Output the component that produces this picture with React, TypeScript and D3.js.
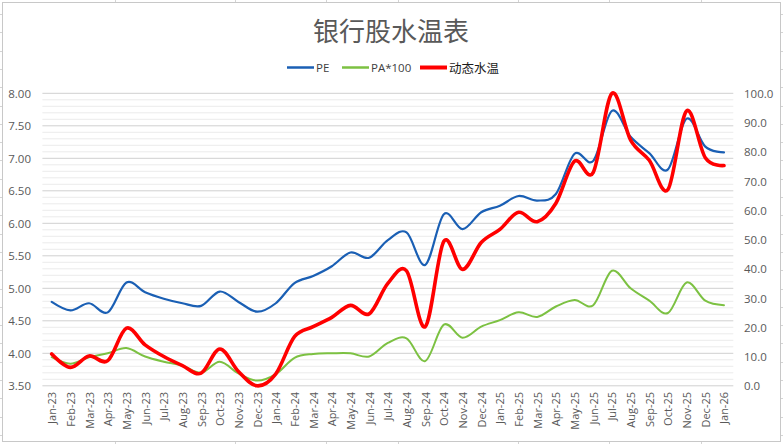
import React from "react";
import * as d3 from "d3";

const months = [
  "Jan-23","Feb-23","Mar-23","Apr-23","May-23","Jun-23","Jul-23","Aug-23","Sep-23","Oct-23","Nov-23","Dec-23",
  "Jan-24","Feb-24","Mar-24","Apr-24","May-24","Jun-24","Jul-24","Aug-24","Sep-24","Oct-24","Nov-24","Dec-24",
  "Jan-25","Feb-25","Mar-25","Apr-25","May-25","Jun-25","Jul-25","Aug-25","Sep-25","Oct-25","Nov-25","Dec-25",
  "Jan-26",
];
const peValues = [4.79,4.66,4.77,4.63,5.09,4.94,4.84,4.77,4.73,4.95,4.79,4.64,4.77,5.08,5.19,5.34,5.55,5.47,5.74,5.86,5.36,6.14,5.91,6.17,6.27,6.42,6.35,6.45,7.07,6.96,7.73,7.33,7.08,6.83,7.61,7.18,7.09];
const paValues = [3.94,3.84,3.94,4.0,4.08,3.95,3.87,3.81,3.70,3.87,3.69,3.58,3.68,3.93,3.99,4.0,4.0,3.95,4.16,4.23,3.88,4.44,4.24,4.41,4.51,4.63,4.56,4.72,4.82,4.74,5.27,5.0,4.81,4.62,5.09,4.81,4.74];
const waterValues = [10.9,6.3,10.2,8.6,19.7,14.0,10.0,6.9,4.3,12.6,4.9,0.0,4.1,16.8,20.2,23.4,27.5,24.6,35.0,39.3,20.2,49.4,39.8,49.0,53.5,59.3,56.1,62.4,76.8,73.0,100.0,84.0,77.1,67.1,94.0,78.0,75.3];
const leftTicks = [3.5,4.0,4.5,5.0,5.5,6.0,6.5,7.0,7.5,8.0];
const rightTicks = [0,10,20,30,40,50,60,70,80,90,100];

const W = 783, H = 444;
const plot = { left: 42.4, right: 733.3, top: 93.3, bottom: 385.8 };
const LAT = "'Open Sans', 'Liberation Sans', sans-serif";
const CJK = "'Noto Sans CJK SC', sans-serif";

export default function App() {
  const x = d3.scaleBand<string>().domain(months).range([plot.left, plot.right]).padding(0);
  const xc = (m: string) => (x(m) as number) + x.bandwidth() / 2;
  const yL = d3.scaleLinear().domain([3.5, 8]).range([plot.bottom, plot.top]);
  const yR = d3.scaleLinear().domain([0, 100]).range([plot.bottom, plot.top]);
  const curve = d3.curveCardinal.tension(0);
  const lineL = d3.line<number>().x((_, i) => xc(months[i])).y((v) => yL(v)).curve(curve);
  const lineR = d3.line<number>().x((_, i) => xc(months[i])).y((v) => yR(v)).curve(curve);
  const minor = d3.range(35, 81).map((v) => v / 10).filter((v) => Math.round(v * 10) % 5 !== 0);

  const colStubs = [115, 235, 326, 398, 518, 609, 701];
  const rowStubs = d3.range(0, 24).map((k) => 14 + 18.3 * k);

  const legend = [
    { label: "PE", color: "#1a5fb4", w: 2.5, x: 287, cjk: false },
    { label: "PA*100", color: "#7cc142", w: 2.5, x: 342, cjk: false },
    { label: "动态水温", color: "#ff0000", w: 4, x: 420, cjk: true },
  ];

  return (
    <svg width={W} height={H} style={{ position: "fixed", left: 0, top: 0, background: "#fff" }}>
      {/* spreadsheet stubs */}
      <g stroke="#d4d4d4" strokeWidth={1}>
        {colStubs.map((c) => (
          <g key={c}>
            <line x1={c + 0.5} x2={c + 0.5} y1={0} y2={2.5} />
            <line x1={c + 0.5} x2={c + 0.5} y1={441.5} y2={444} />
          </g>
        ))}
        {rowStubs.map((r) => (
          <g key={r}>
            <line x1={0} x2={2} y1={Math.round(r) + 0.5} y2={Math.round(r) + 0.5} />
            <line x1={780.5} x2={783} y1={Math.round(r) + 0.5} y2={Math.round(r) + 0.5} />
          </g>
        ))}
      </g>
      <rect x={2.5} y={2.5} width={778} height={439} fill="#fff" stroke="#c8c8c8" strokeWidth={1} />

      {/* title */}
      <text x={391} y={41} textAnchor="middle" fontFamily={CJK} fontSize={26} fill="#595959">银行股水温表</text>

      {/* legend */}
      {legend.map((l) => (
        <g key={l.label}>
          <line x1={l.x} x2={l.x + 27} y1={67.5} y2={67.5} stroke={l.color} strokeWidth={l.w} />
          <text x={l.x + 29} y={67.5} dominantBaseline="central" fontFamily={l.cjk ? CJK : LAT}
            fontSize={l.cjk ? 12.5 : 11.5} fill={l.cjk ? "#1a1a1a" : "#404040"}>{l.label}</text>
        </g>
      ))}

      {/* gridlines */}
      <g>
        {minor.map((v) => (
          <line key={"m" + v} x1={plot.left} x2={plot.right} y1={yL(v)} y2={yL(v)} stroke="#ebebeb" strokeWidth={1} />
        ))}
        {leftTicks.map((v) => (
          <line key={"M" + v} x1={plot.left} x2={plot.right} y1={yL(v)} y2={yL(v)} stroke="#d0d0d0" strokeWidth={1} />
        ))}
      </g>

      {/* left axis labels */}
      {leftTicks.map((v) => (
        <text key={"l" + v} x={31} y={yL(v)} textAnchor="end" dominantBaseline="central" fontFamily={LAT} fontSize={11.5} fill="#595959">
          {d3.format(".2f")(v)}
        </text>
      ))}
      {/* right axis labels */}
      {rightTicks.map((v) => (
        <text key={"r" + v} x={744} y={yR(v)} textAnchor="start" dominantBaseline="central" fontFamily={LAT} fontSize={11.5} fill="#595959">
          {d3.format(".1f")(v)}
        </text>
      ))}
      {/* x labels */}
      {months.map((m) => (
        <text key={m} transform={`translate(${xc(m)},392) rotate(-90)`} textAnchor="end" dominantBaseline="central"
          fontFamily={LAT} fontSize={11} fill="#595959">{m}</text>
      ))}

      {/* series */}
      <path d={lineL(paValues) || ""} fill="none" stroke="#7cc142" strokeWidth={2} strokeLinejoin="round" strokeLinecap="round" />
      <path d={lineL(peValues) || ""} fill="none" stroke="#1a5fb4" strokeWidth={2.2} strokeLinejoin="round" strokeLinecap="round" />
      <path d={lineR(waterValues) || ""} fill="none" stroke="#ff0000" strokeWidth={3.6} strokeLinejoin="round" strokeLinecap="round" />
    </svg>
  );
}
